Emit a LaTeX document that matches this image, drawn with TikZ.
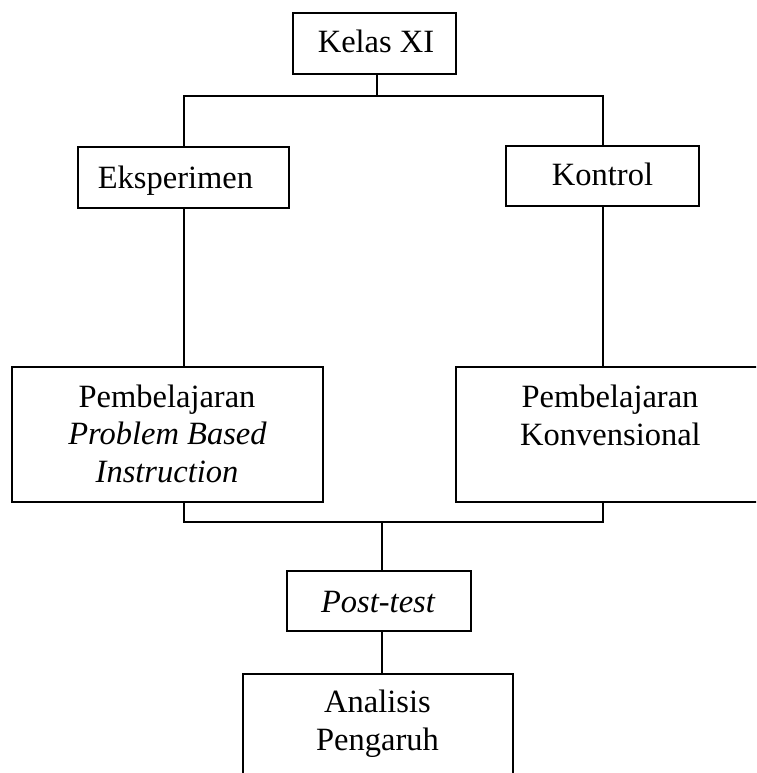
\documentclass[tikz,border=0pt]{standalone}
\usepackage{fontspec}
\setmainfont{Liberation Serif}
\begin{document}
\begin{tikzpicture}[x=1pt,y=-1pt,
  box/.style={draw=black, line width=2pt, inner sep=0pt, fill=none},
  conn/.style={draw=black, line width=2pt},
  lbl/.style={anchor=base, inner sep=0pt, font=\fontsize{32.5}{37.5}\selectfont}]
\useasboundingbox (0,0) rectangle (756,773);
\begin{scope}
\clip (0,0) rectangle (756,773);
% boxes
\node[box, minimum width=163pt, minimum height=61pt] (kelas) at (374.5,43.5) {};
\node[box, minimum width=211pt, minimum height=61pt] (eks) at (183.5,177.5) {};
\node[box, minimum width=193pt, minimum height=60pt] (kon) at (602.5,176) {};
\node[box, minimum width=311pt, minimum height=135pt] (pbi) at (167.5,434.5) {};
\node[box, minimum width=308pt, minimum height=135pt] (konv) at (610,434.5) {};
\node[box, minimum width=184pt, minimum height=60pt] (post) at (379,601) {};
\node[box, minimum width=270pt, minimum height=126pt] (anal) at (378,737) {};
% texts
\node[lbl] (t1) at (376,53) {Kelas XI};
\node[lbl] (t2) at (175.5,188) {Eksperimen};
\node[lbl] (t3) at (602.5,185) {Kontrol};
\node[lbl] (t4) at (167,407) {Pembelajaran};
\node[lbl] (t5) at (167.5,444) {\itshape Problem Based};
\node[lbl] (t6) at (167,482) {\itshape Instruction};
\node[lbl] (t7) at (610,407) {Pembelajaran};
\node[lbl] (t8) at (610.5,445) {Konvensional};
\node[lbl] (t9) at (378,612) {\itshape Post-test};
\node[lbl] (t10) at (377.5,712) {Analisis};
\node[lbl] (t11) at (377.5,750) {Pengaruh};
% connectors
\coordinate (tb) at (377,96);
\coordinate (bb) at (382,522);
\draw[conn] (kelas.south -| tb) -- (tb);
\draw[conn] (eks.north) |- (tb) -| (kon.north);
\draw[conn] (eks.south) -- (eks.south |- pbi.north);
\draw[conn] (kon.south) -- (kon.south |- konv.north);
\draw[conn] (pbi.south -| eks.south) |- (bb) -| (konv.south -| kon.south);
\draw[conn] (bb) -- (bb |- post.north);
\draw[conn] (post.south -| bb) -- (anal.north -| bb);
\end{scope}
\end{tikzpicture}
\end{document}
